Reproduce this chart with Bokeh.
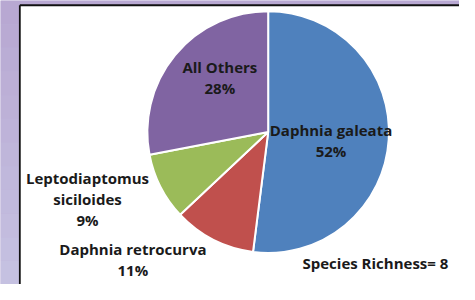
import math
from bokeh.plotting import figure
from bokeh.models import Range1d, ColumnDataSource
from bokeh.core.properties import value
from bokeh.embed import file_html
from bokeh.resources import INLINE

# ---- data ----
species = ["Daphnia galeata", "Daphnia retrocurva", "Leptodiaptomus siciloides", "All Others"]
percents = [52, 11, 9, 28]
colors = ["#4f81bd", "#c0504d", "#9bbb59", "#8064a2"]
label_text = ["Daphnia galeata\n52%", "Daphnia retrocurva\n11%",
              "Leptodiaptomus\nsiciloides\n9%", "All Others\n28%"]
note = "Species Richness= 8"

# ---- layout (reference pixel coordinates; y measured from top) ----
W, H = 475, 300
M = 8
def Y(y):
    return H - y

cx, cy, r = 277, 139, 125
label_pos = [(342, 148), (137, 274), (90, 210), (227, 81)]
note_pos = (388, 277)
FONT = "Open Sans"
FS = "15px"
LH = 1.05

p = figure(width=W - 2 * M, height=H - 2 * M, output_backend="svg", toolbar_location=None,
           x_range=Range1d(0, W), y_range=Range1d(0, H), min_border=0,
           background_fill_color="#bdb0d8", border_fill_color="#bdb0d8", outline_line_color=None)
p.axis.visible = False
p.grid.visible = False

# subtle vertical gradient of the background strip
bands = 12
top_c = (0xb8, 0xa8, 0xd2)
bot_c = (0xc5, 0xc1, 0xe1)
for i in range(bands):
    t = i / (bands - 1)
    c = tuple(int(round(top_c[k] + (bot_c[k] - top_c[k]) * t)) for k in range(3))
    y0 = H * i / bands
    y1 = H * (i + 1) / bands
    p.quad(left=0, right=W, top=Y(y0), bottom=Y(y1), fill_color="#%02x%02x%02x" % c, line_color=None)

# white panel with dark border on left/top
p.quad(left=20, right=W + 5, top=Y(5), bottom=Y(H + 5), fill_color="white", line_color=None)
p.line([20, 20], [Y(H + 5), Y(5)], line_color="#111111", line_width=1.8)
p.line([20, W + 5], [Y(5), Y(5)], line_color="#111111", line_width=1.8)

# pie
total = sum(percents)
starts, ends = [], []
cum = 0
for v in percents:
    starts.append(math.pi / 2 - 2 * math.pi * cum / total)
    cum += v
    ends.append(math.pi / 2 - 2 * math.pi * cum / total)

src = ColumnDataSource(dict(start=starts, end=ends, color=colors, name=species))
p.wedge(x=cx, y=Y(cy), radius=r, start_angle="start", end_angle="end", direction="clock",
        fill_color="color", line_color="white", line_width=2, source=src)

lsrc = ColumnDataSource(dict(x=[q[0] for q in label_pos], y=[Y(q[1]) for q in label_pos], t=label_text))
p.text(x="x", y="y", text="t", source=lsrc, text_align="center", text_baseline="middle",
       text_font=value(FONT), text_font_style="bold", text_font_size=FS,
       text_color="#1a1a1a", text_line_height=LH)

p.text(x=[note_pos[0]], y=[Y(note_pos[1])], text=[note], text_align="center", text_baseline="middle",
       text_font=value(FONT), text_font_style="bold", text_font_size=FS, text_color="#1a1a1a")

open("out.html", "w").write(file_html(p, INLINE))
